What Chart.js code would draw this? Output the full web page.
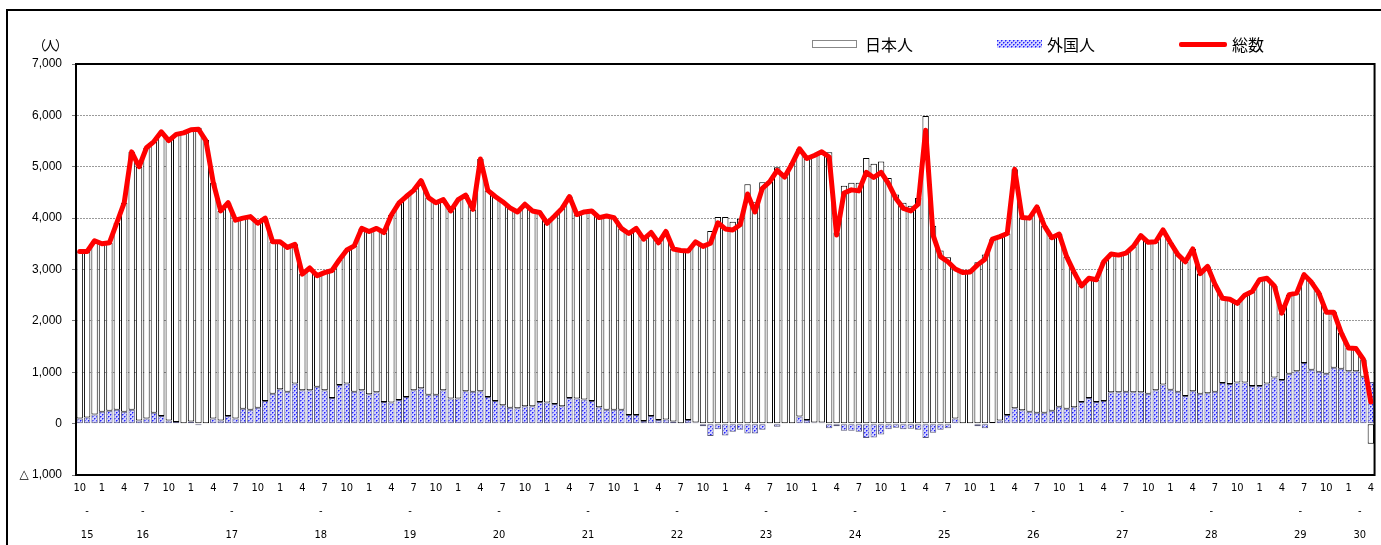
<!DOCTYPE html>
<html lang="ja">
<head>
<meta charset="UTF-8">
<title>日本人・外国人 月別推移</title>
<style>
    html, body {
        margin: 0;
        padding: 0;
        background: #fff;
    }
    body {
        width: 1381px;
        height: 545px;
        position: relative;
        overflow: hidden;
        font-family: "Noto Sans CJK JP", sans-serif;
        color: #000;
    }
    .frame {
        position: absolute;
        left: 6px;
        top: 9px;
        width: 1400px;
        height: 600px;
        border: 2px solid #000;
    }
    #wrap {
        position: absolute;
        left: 0;
        top: 0;
        width: 1381px;
        height: 545px;
    }
    .unit {
        position: absolute;
        left: 33px;
        top: 35px;
        font-size: 13px;
        letter-spacing: -2px;
    }
    .lg-text {
        position: absolute;
        top: 35px;
        font-size: 16px;
        line-height: 18px;
    }
    .sw {
        position: absolute;
        box-sizing: border-box;
    }
</style>
<script src="https://cdn.jsdelivr.net/npm/chart.js"></script>
</head>
<body>

<div class="frame"></div>
<div id="wrap"><canvas id="chart" width="1381" height="545"></canvas></div>

<div class="unit">（人）</div>

<!-- legend -->
<div class="sw" style="left:812px; top:40px; width:45px; height:8px; border:1px solid #888; background:#fff;"></div>
<div class="lg-text" style="left:865px;">日本人</div>
<div class="sw" id="swForeign" style="left:997px; top:40px; width:45px; height:8px;"></div>
<div class="lg-text" style="left:1047px;">外国人</div>
<div class="sw" style="left:1179px; top:42px; width:48px; height:5px; background:#ff0000; border-radius:2px;"></div>
<div class="lg-text" style="left:1232px;">総数</div>

<script>
    // 平成15年10月 ～ 平成30年4月（月次）
    const startYear = 15;
    const startMonth = 10;

    // 総数
    const total = [
        3350, 3350, 3560, 3500, 3520, 3910, 4300, 5290, 5000, 5370,
        5490, 5680, 5510, 5630, 5660, 5720, 5730, 5510, 4690, 4140,
        4300, 3960, 4000, 4030, 3900, 4000, 3540, 3540, 3430, 3490,
        2910, 3030, 2880, 2940, 2980, 3190, 3380, 3460, 3800, 3740,
        3800, 3720, 4060, 4290, 4420, 4540, 4730, 4400, 4300, 4360,
        4140, 4360, 4450, 4170, 5150, 4540, 4420, 4320, 4200, 4120,
        4270, 4140, 4110, 3900, 4040, 4190, 4420, 4070, 4120, 4140,
        4010, 4040, 4010, 3800, 3700, 3800, 3590, 3720, 3520, 3740,
        3400, 3370, 3360, 3540, 3450, 3510, 3910, 3790, 3770, 3870,
        4470, 4120, 4580, 4710, 4930, 4800, 5060, 5350, 5160, 5220,
        5290, 5190, 3670, 4490, 4550, 4530, 4890, 4790, 4890, 4670,
        4380, 4190, 4140, 4270, 5710, 3670, 3250, 3150, 3010, 2940,
        2950, 3090, 3200, 3590, 3640, 3700, 4950, 4010, 4000, 4220,
        3850, 3620, 3690, 3250, 2950, 2680, 2830, 2800, 3150, 3300,
        3280, 3320, 3450, 3660, 3530, 3540, 3770, 3520, 3290, 3150,
        3400, 2920, 3060, 2710, 2440, 2420, 2340, 2500, 2570, 2800,
        2830, 2680, 2150, 2510, 2540, 2900, 2750, 2540, 2170, 2170,
        1770, 1470, 1460, 1250, 420
    ];

    // 外国人
    const foreign = [
        100, 120, 180, 230, 250, 270, 230, 270, 60, 100,
        210, 150, 60, 30, -10, 40, -30, -10, 100, 60,
        150, 100, 290, 270, 310, 440, 580, 670, 620, 780,
        650, 650, 720, 650, 500, 750, 780, 620, 650, 570,
        610, 420, 410, 460, 520, 650, 690, 560, 560, 650,
        490, 490, 630, 620, 630, 520, 440, 360, 310, 300,
        340, 340, 420, 410, 380, 340, 500, 490, 470, 440,
        320, 270, 270, 270, 170, 170, 50, 150, 70, 80,
        40, -10, 70, 20, -50, -240, -110, -230, -160, -120,
        -190, -190, -120, -10, -60, -10, -10, 140, 70, 20,
        20, -90, -50, -140, -140, -160, -280, -270, -210, -110,
        -80, -110, -100, -120, -280, -180, -120, -90, 100, -10,
        -10, -50, -90, 10, 60, 170, 300, 260, 230, 210,
        210, 250, 330, 290, 320, 420, 500, 420, 440, 610,
        610, 620, 610, 610, 580, 650, 760, 660, 620, 540,
        630, 580, 590, 620, 790, 770, 800, 800, 730, 730,
        780, 900, 850, 970, 1020, 1180, 1050, 1010, 970, 1090,
        1070, 1020, 1020, 910, 810
    ];

    // 日本人
    const japanese = [
        3250, 3230, 3380, 3270, 3270, 3640, 4070, 5020, 4940, 5270,
        5280, 5530, 5450, 5600, 5670, 5680, 5760, 5520, 4590, 4080,
        4150, 3860, 3710, 3760, 3590, 3560, 2960, 2870, 2810, 2710,
        2260, 2380, 2160, 2290, 2480, 2440, 2600, 2840, 3150, 3170,
        3190, 3300, 3650, 3830, 3900, 3890, 4040, 3840, 3740, 3710,
        3650, 3870, 3820, 3550, 4520, 4020, 3980, 3960, 3890, 3820,
        3930, 3800, 3690, 3490, 3660, 3850, 3920, 3580, 3650, 3700,
        3690, 3770, 3740, 3530, 3530, 3630, 3540, 3570, 3450, 3660,
        3360, 3380, 3290, 3520, 3500, 3750, 4020, 4020, 3930, 3990,
        4660, 4310, 4700, 4720, 4990, 4810, 5070, 5210, 5090, 5200,
        5270, 5280, 3720, 4630, 4690, 4690, 5170, 5060, 5100, 4780,
        4460, 4300, 4240, 4390, 5990, 3850, 3370, 3240, 2910, 2950,
        2960, 3140, 3290, 3580, 3580, 3530, 4650, 3750, 3770, 4010,
        3640, 3370, 3360, 2960, 2630, 2260, 2330, 2380, 2710, 2690,
        2670, 2700, 2840, 3050, 2950, 2890, 3010, 2860, 2670, 2610,
        2770, 2340, 2470, 2090, 1650, 1650, 1540, 1700, 1840, 2070,
        2050, 1780, 1300, 1540, 1520, 1720, 1700, 1530, 1200, 1080,
        700, 450, 440, 340, -390
    ];

    const monthTicks = [1, 4, 7, 10];

    // category labels "年/月"
    const categories = [];
    let yy = startYear, mm = startMonth;
    for (let i = 0; i < total.length; i++) {
        categories.push(yy + '/' + mm);
        mm++;
        if (mm > 12) { mm = 1; yy++; }
    }

    // year labels sit in the middle of each year's months
    const yearPos = {};
    categories.forEach((c, i) => {
        const y = c.split('/')[0];
        if (!yearPos[y]) yearPos[y] = [i, i];
        yearPos[y][1] = i;
    });
    const yearTicks = Object.keys(yearPos).map(y => ({ value: (yearPos[y][0] + yearPos[y][1]) / 2, label: y }));

    // dotted blue pattern for 外国人
    function makePattern() {
        const p = document.createElement('canvas');
        p.width = 4;
        p.height = 4;
        const c = p.getContext('2d');
        c.fillStyle = '#d2d2ff';
        c.fillRect(0, 0, 4, 4);
        c.fillStyle = '#7878ff';
        c.fillRect(1, 0, 1, 1);
        c.fillRect(0, 1, 1, 1);
        c.fillRect(3, 2, 1, 1);
        c.fillRect(2, 3, 1, 1);
        c.fillStyle = '#1e1eff';
        c.fillRect(0, 0, 1, 1);
        c.fillRect(2, 2, 1, 1);
        return p;
    }
    const patCanvas = makePattern();
    const ctx = document.getElementById('chart').getContext('2d');
    const bluePattern = ctx.createPattern(patCanvas, 'repeat');
    document.getElementById('swForeign').style.background = 'url(' + patCanvas.toDataURL() + ')';

    const labelFamily = "'Liberation Sans Narrow', 'DejaVu Sans Condensed', 'Liberation Sans', sans-serif";

    // plot area border + year row under the month labels
    const plotFrame = {
        id: 'plotFrame',
        afterDraw(chart) {
            const a = chart.chartArea;
            const c = chart.ctx;
            const xs = chart.scales.x;
            c.save();
            c.strokeStyle = '#000';
            c.lineWidth = 2;
            c.strokeRect(a.left, a.top, a.right - a.left, a.bottom - a.top);
            c.fillStyle = '#000';
            c.font = '11px ' + labelFamily;
            c.textAlign = 'center';
            c.textBaseline = 'middle';
            yearTicks.forEach(t => {
                const x = xs.getPixelForValue(t.value);
                c.fillText('-', x, a.bottom + 36);
                c.fillText(t.label, x, a.bottom + 60);
            });
            c.restore();
        }
    };

    new Chart(ctx, {
        type: 'bar',
        data: {
            labels: categories,
            datasets: [
                {
                    type: 'line',
                    label: '総数',
                    data: total,
                    borderColor: '#ff0000',
                    borderWidth: 5,
                    pointRadius: 0,
                    tension: 0,
                    borderJoinStyle: 'round',
                    borderCapStyle: 'round',
                    order: 0
                },
                {
                    label: '外国人',
                    data: foreign,
                    backgroundColor: bluePattern,
                    borderColor: '#5a5a7a',
                    borderWidth: 1,
                    borderSkipped: false,
                    stack: 's',
                    order: 1
                },
                {
                    label: '日本人',
                    data: japanese,
                    backgroundColor: '#ffffff',
                    borderColor: '#000000',
                    borderWidth: 1,
                    borderSkipped: false,
                    stack: 's',
                    order: 1
                }
            ]
        },
        options: {
            responsive: false,
            animation: false,
            layout: { padding: { top: 64, right: 2, left: 0, bottom: 0 } },
            datasets: {
                bar: { categoryPercentage: 1.0, barPercentage: 0.86 }
            },
            plugins: {
                legend: { display: false },
                tooltip: { enabled: false }
            },
            scales: {
                x: {
                    type: 'category',
                    stacked: true,
                    grid: { display: false, drawTicks: false },
                    border: { display: true, color: '#000', width: 2 },
                    ticks: {
                        autoSkip: false,
                        maxRotation: 0,
                        padding: 7,
                        color: '#000',
                        font: { family: labelFamily, size: 11 },
                        callback(value, index) {
                            const m = +categories[index].split('/')[1];
                            return monthTicks.includes(m) ? String(m) : '';
                        }
                    },
                    afterFit(scale) { scale.height = 70; }
                },
                y: {
                    stacked: true,
                    min: -1000,
                    max: 7000,
                    grid: {
                        drawTicks: true,
                        tickLength: 4,
                        tickColor: '#777',
                        color: (c) => c.tick && c.tick.value === 0 ? 'rgba(0,0,0,0)' : '#9a9a9a',
                        lineWidth: 1
                    },
                    border: { display: true, color: '#000', width: 2, dash: [2, 1] },
                    ticks: {
                        stepSize: 1000,
                        padding: 10,
                        color: '#000',
                        font: { family: "'Liberation Sans', 'DejaVu Sans', sans-serif", size: 12 },
                        callback(v) {
                            const s = Math.abs(v).toLocaleString('en-US');
                            return v < 0 ? '△ ' + s : s;
                        }
                    },
                    afterFit(scale) { scale.width = 76; }
                }
            }
        },
        plugins: [plotFrame]
    });
</script>

</body>
</html>
